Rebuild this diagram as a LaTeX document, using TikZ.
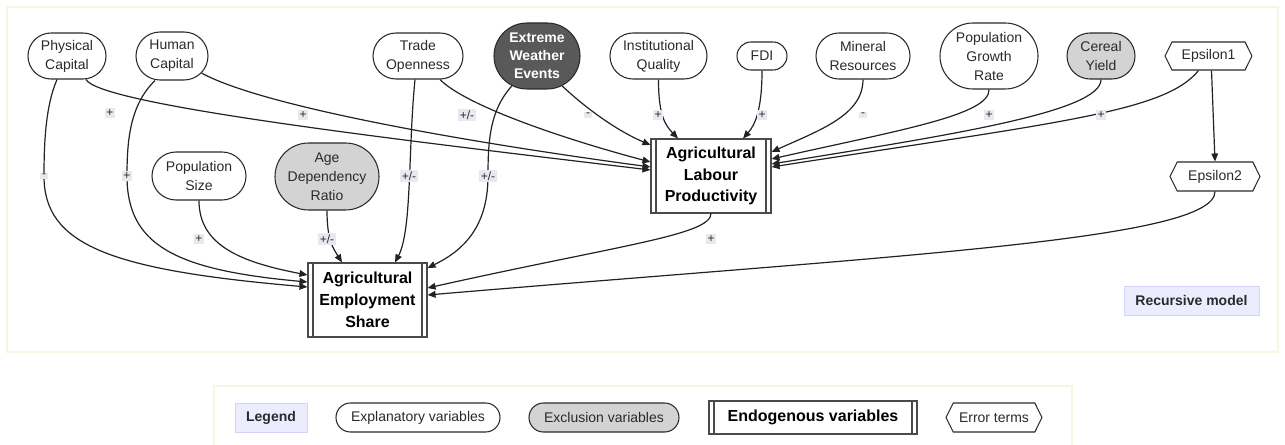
\documentclass[tikz,border=0pt]{standalone}
\usepackage{fontspec}
\setmainfont{Liberation Sans}
\usetikzlibrary{shapes.misc,shapes.symbols,arrows.meta,calc}
\definecolor{txt}{HTML}{2A2A2A}
\definecolor{edge}{HTML}{222222}
\definecolor{exfill}{HTML}{D3D3D3}
\definecolor{darkfill}{HTML}{595959}
\definecolor{lav}{HTML}{ECECFF}
\definecolor{lavb}{HTML}{D2D2FA}
\definecolor{areab}{HTML}{F6F6E4}
\definecolor{lblbg}{HTML}{E8E8F0}
\begin{document}
\begin{tikzpicture}[x=0.75pt,y=-0.75pt,
  every node/.style={font=\fontsize{10.5}{14.25}\selectfont, text=txt, align=center, inner sep=0pt},
  sz/.style 2 args={minimum width=#1*0.75pt, minimum height=#2*0.75pt},
  expl/.style={rounded rectangle, draw=txt, line width=0.8pt, fill=white},
  excl/.style={expl, fill=exfill},
  extreme/.style={expl, fill=darkfill, text=white, font=\bfseries\fontsize{10.5}{13.6}\selectfont},
  endo/.style={rectangle, draw=txt!85, line width=0.8pt, fill=white, text=black,
    font=\bfseries\fontsize{12}{16.3}\selectfont,
    path picture={\draw[txt!85, line width=0.8pt]
      ([xshift=3.75pt]path picture bounding box.north west) -- ([xshift=3.75pt]path picture bounding box.south west)
      ([xshift=-3.75pt]path picture bounding box.north east) -- ([xshift=-3.75pt]path picture bounding box.south east);}},
  err/.style={signal, signal to=west and east, signal pointer angle=127, draw=txt, line width=0.8pt, fill=white},
  tag/.style={rectangle, fill=lav, draw=lavb, line width=0.6pt, font=\bfseries\fontsize{10.5}{12}\selectfont},
  lbl/.style={fill=lblbg, font=\fontsize{9}{10}\selectfont, inner sep=1.2pt},
  arr/.style={draw=edge, line width=0.9pt, -{Triangle[length=6pt,width=5pt]}},
  area/.style={draw=areab, line width=0.8pt}
]
\useasboundingbox (0,0) rectangle (1285,445);
% frames
\draw[area] (7,7) rectangle (1278,352);
\draw[area] (214,386) rectangle (1072,470);

% top row
\node[expl, sz={78}{46}] (pc) at (67,56) {Physical\\Capital};
\node[expl, sz={72}{48}] (hc) at (172,56) {Human\\Capital};
\node[expl, sz={90}{46}] (to) at (418,56) {Trade\\Openness};
\node[extreme, sz={86}{66}] (ew) at (537,56) {Extreme\\Weather\\Events};
\node[expl, sz={97}{46}] (iq) at (658.5,56) {Institutional\\Quality};
\node[expl, sz={50}{28}] (fdi) at (762,56) {FDI};
\node[expl, sz={94}{46}] (mr) at (863,56) {Mineral\\Resources};
\node[expl, sz={98}{66}] (pg) at (989,56) {Population\\Growth\\Rate};
\node[excl, sz={68}{46}] (cy) at (1101,56) {Cereal\\Yield};
\node[err, sz={87}{28}] (e1) at (1208.5,56) {Epsilon1};
% middle row
\node[err, sz={90}{29}] (e2) at (1215,176.5) {Epsilon2};
\node[expl, sz={94}{48}] (ps) at (199,176) {Population\\Size};
\node[excl, sz={104}{67}] (ad) at (327,176.5) {Age\\Dependency\\Ratio};
\node[endo, sz={120}{74}] (alp) at (711,176) {Agricultural\\Labour\\Productivity};
\node[endo, sz={119}{74}] (aes) at (367.5,300) {Agricultural\\Employment\\Share};
\node[tag, sz={135}{29}] (rm) at (1191.5,300.5) {Recursive model};

% edges into AES
\draw[arr] ($(pc.south)+(-10,0)$) .. controls (46,105) and (44,140) .. (44,176) .. controls (44,245) and (110,270) .. ($(aes.west)+(0,-13)$);
\draw[arr] ($(hc.south)+(-17,0)$) .. controls (130,105) and (127,140) .. (127,176) .. controls (127,245) and (175,270) .. ($(aes.west)+(0,-18)$);
\draw[arr] (ps.south) .. controls (199,245) and (240,262) .. ($(aes.west)+(0,-25)$);
\draw[arr] (ad.south) .. controls (327,240) and (333,248) .. ($(aes.north)+(-25.5,0)$);
\draw[arr] ($(to.south)+(-3,0)$) .. controls (408,150) and (412,230) .. ($(aes.north)+(27.5,0)$);
\draw[arr] (ew.-130) .. controls (490,110) and (488,140) .. (488,176) .. controls (488,230) and (460,252) .. ($(aes.east)+(0,-32)$);
\draw[arr] (alp.south) .. controls (711,235) and (620,245) .. ($(aes.east)+(0,-12)$);
\draw[arr] (e2.south) .. controls (1215,240) and (900,255) .. ($(aes.east)+(0,-5)$);

% edges into ALP
\draw[arr] ($(pc.south)+(19,0)$) .. controls (100,105) and (400,140) .. ($(alp.west)+(0,-6)$);
\draw[arr] (hc.-30) .. controls (260,105) and (450,140) .. ($(alp.west)+(0,-9)$);
\draw[arr] ($(to.south)+(22,0)$) .. controls (465,105) and (560,138) .. ($(alp.west)+(0,-14)$);
\draw[arr] (ew.-50) .. controls (590,112) and (620,132) .. ($(alp.west)+(0,-31)$);
\draw[arr] (iq.south) .. controls (658.5,115) and (665,125) .. ($(alp.north)+(-33,0)$);
\draw[arr] (fdi.south) .. controls (762,110) and (755,125) .. ($(alp.north)+(32,0)$);
\draw[arr] (mr.south) .. controls (863,115) and (820,130) .. ($(alp.east)+(0,-24)$);
\draw[arr] (pg.south) .. controls (990,115) and (900,130) .. ($(alp.east)+(0,-17)$);
\draw[arr] (cy.south) .. controls (1101,112) and (950,135) .. ($(alp.east)+(0,-12)$);
\draw[arr] ($(e1.south)+(-10,0)$) .. controls (1165,112) and (1060,122) .. ($(alp.east)+(0,-9)$);
\draw[arr] ($(e1.south)+(3,0)$) -- (e2.north);

% edge labels
\node[lbl] at (110,113) {+};
\node[lbl] at (303,115) {+};
\node[lbl] at (467,115) {+/-};
\node[lbl] at (588,115) {-};
\node[lbl] at (658,115) {+};
\node[lbl] at (762,115) {+};
\node[lbl] at (863,115) {-};
\node[lbl] at (989,115) {+};
\node[lbl] at (1101,115) {+};
\node[lbl] at (44,176) {-};
\node[lbl] at (127,176) {+};
\node[lbl] at (409,176) {+/-};
\node[lbl] at (488,176) {+/-};
\node[lbl] at (199,239) {+};
\node[lbl] at (327,239) {+/-};
\node[lbl] at (711,239) {+};

% legend
\node[tag, sz={72}{29}] (lg) at (271,417.5) {Legend};
\node[expl, sz={164}{29}] (lex) at (418,417.5) {Explanatory variables};
\node[excl, sz={150}{29}] (lexc) at (604,417.5) {Exclusion variables};
\node[endo, sz={208}{33}] (lendo) at (813,417.5) {Endogenous variables};
\node[err, sz={96}{29}] (lerr) at (994,417.5) {Error terms};
\end{tikzpicture}
\end{document}
